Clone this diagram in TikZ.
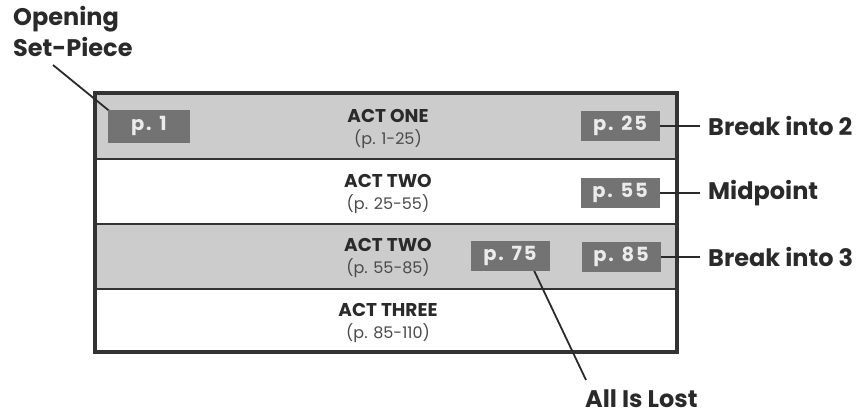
\documentclass[tikz,border=0pt]{standalone}
\usepackage{fontspec}
\setmainfont{Poppins}
\definecolor{rowgray}{HTML}{CCCCCC}
\definecolor{badgegray}{HTML}{737373}
\definecolor{frame}{HTML}{333333}
\definecolor{ink}{HTML}{2A2A2A}
\begin{document}
\begin{tikzpicture}[x=1pt,y=-1pt,
  badge/.style={fill=badgegray,text=white!92!black,minimum width=79pt,minimum height=30pt,inner sep=0pt,font=\bfseries\fontsize{19.5}{19.5}\selectfont\addfontfeature{LetterSpace=9}},
  label/.style={text=ink,font=\bfseries\fontsize{24}{31}\selectfont,inner sep=0pt},
  acttitle/.style={text=ink,font=\bfseries\fontsize{18.5}{20}\selectfont,inner sep=0pt},
  actsub/.style={text=ink!85,font=\fontsize{16}{18}\selectfont,inner sep=0pt},
  conn/.style={draw=ink,line width=1.8pt}]
\useasboundingbox (0,0) rectangle (858,415);
% rows
\fill[rowgray] (95,93) rectangle (677,159);
\fill[rowgray] (95,224) rectangle (677,289);
\draw[frame,line width=2.2pt] (95,159) -- (677,159);
\draw[frame,line width=2.2pt] (95,224) -- (677,224);
\draw[frame,line width=2.2pt] (95,289) -- (677,289);
\draw[frame,line width=4.5pt] (95,93) rectangle (677,352);
% act titles
\node[acttitle] (a1) at (388,116) {ACT ONE};
\node[actsub] (s1) at (388,139) {(p. 1-25)};
\node[acttitle] (a2) at (388,181) {ACT TWO};
\node[actsub] (s2) at (388,204) {(p. 25-55)};
\node[acttitle] (a3) at (388,245) {ACT TWO};
\node[actsub] (s3) at (388,268) {(p. 55-85)};
\node[acttitle] (a4) at (388,310) {ACT THREE};
\node[actsub] (s4) at (388,333) {(p. 85-110)};
% badges
\node[badge,minimum width=82pt,minimum height=33pt] (p1) at (149,126) {p. 1};
\node[badge] (p25) at (620,126) {p. 25};
\node[badge] (p55) at (620,193) {p. 55};
\node[badge] (p75) at (510,256) {p. 75};
\node[badge] (p85) at (621,257) {p. 85};
% labels
\node[label,anchor=west] (b2) at (708,126) {Break into 2};
\node[label,anchor=west] (mid) at (708,193) {Midpoint};
\node[label,anchor=west] (b3) at (708,257) {Break into 3};
\node[label,anchor=north west] (lost) at (585,390) {All Is Lost};
\node[label,anchor=north west,align=left] (open) at (13,6) {Opening\\Set-Piece};
% connectors
\coordinate (b2in) at ([xshift=-8pt]b2.west);
\coordinate (midin) at ([xshift=-8pt]mid.west);
\coordinate (b3in) at ([xshift=-8pt]b3.west);
\draw[conn] (p25.east) -- (b2in);
\draw[conn] (p55.east) -- (midin);
\draw[conn] (p85.east) -- (b3in);
\coordinate (l75) at (530,262);
\coordinate (lostin) at (586,380);
\draw[conn] (l75) -- (lostin);
\coordinate (opin) at (53,65);
\coordinate (p1in) at (118,118);
\draw[conn] (opin) -- (p1in);
\node[badge,minimum width=82pt,minimum height=33pt] at (p1) {p. 1};
\node[badge] at (p75) {p. 75};
\end{tikzpicture}
\end{document}
